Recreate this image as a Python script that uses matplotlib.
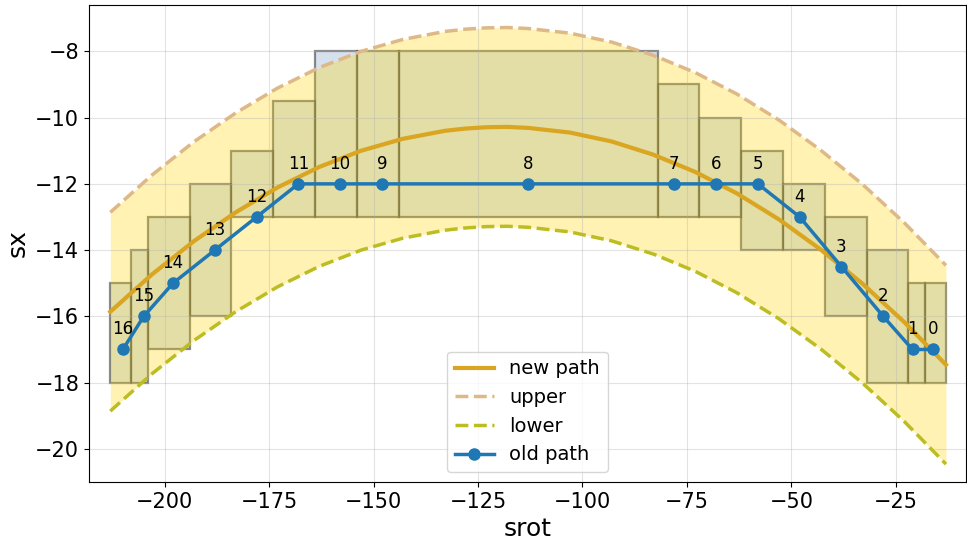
import matplotlib
matplotlib.use("Agg")
import matplotlib.pyplot as plt
from matplotlib.patches import Rectangle
import numpy as np

# old path (index -> srot, sx)
old_srot = [-16, -21, -28, -38, -48, -58, -68, -78, -113, -148, -158, -168, -178, -188, -198, -205, -210]
old_sx = [-17, -17, -16, -14.5, -13, -12, -12, -12, -12, -12, -12, -12, -13, -14, -15, -16, -17]

# bounding boxes around each old path point
box_left = [-18, -22, -32, -42, -52, -62, -72, -82, -144, -154, -164, -174, -184, -194, -204, -208, -213]
box_right = [-13, -18, -22, -32, -42, -52, -62, -72, -82, -144, -154, -164, -174, -184, -194, -204, -208]
box_low = [-18, -18, -18, -16, -14, -14, -13, -13, -13, -13, -13, -13, -13, -16, -17, -18, -18]
box_high = [-15, -15, -14, -13, -12, -11, -10, -9, -8, -8, -8, -9.5, -11, -12, -13, -14, -15]

# new path samples
new_srot = [-213, -203, -193, -183, -173, -163, -153, -143, -133, -128, -123, -118, -113,
            -103, -93, -83, -73, -63, -53, -43, -33, -23, -13]
new_sx = [-15.86, -14.73, -13.73, -12.86, -12.11, -11.49, -11.00, -10.64, -10.40, -10.33, -10.29, -10.28, -10.31,
          -10.45, -10.72, -11.12, -11.64, -12.29, -13.07, -13.98, -15.01, -16.17, -17.46]
upper_sx = [-12.86, -11.73, -10.73, -9.86, -9.11, -8.49, -8.00, -7.64, -7.40, -7.33, -7.29, -7.28, -7.31,
            -7.45, -7.72, -8.12, -8.64, -9.29, -10.07, -10.98, -12.01, -13.17, -14.46]
lower_sx = [-18.86, -17.73, -16.73, -15.86, -15.11, -14.49, -14.00, -13.64, -13.40, -13.33, -13.29, -13.28, -13.31,
            -13.45, -13.72, -14.12, -14.64, -15.29, -16.07, -16.98, -18.01, -19.17, -20.46]

fig = plt.figure(figsize=(9.67, 5.4), dpi=100)
ax = fig.add_axes([89 / 967, 58 / 540, 877 / 967, 477 / 540])

for l, r, lo, hi in zip(box_left, box_right, box_low, box_high):
    ax.add_patch(Rectangle((l, lo), r - l, hi - lo, facecolor=(0.69, 0.77, 0.87, 0.5),
                           edgecolor=(0.25, 0.25, 0.25, 0.6), linewidth=1.6, zorder=1))

ax.fill_between(new_srot, lower_sx, upper_sx, color="gold", alpha=0.3, linewidth=0, zorder=1.2)

ax.plot(new_srot, new_sx, color="goldenrod", linewidth=3, label="new path", zorder=3)
ax.plot(new_srot, upper_sx, color="burlywood", linestyle="--", linewidth=2.5, label="upper", zorder=3)
ax.plot(new_srot, lower_sx, color="tab:olive", linestyle="--", linewidth=2.5, label="lower", zorder=3)
ax.plot(old_srot, old_sx, color="tab:blue", marker="o", markersize=8, linewidth=2.5,
        label="old path", zorder=4)

for i, (x, y) in enumerate(zip(old_srot, old_sx)):
    ax.annotate(str(i), (x, y), xytext=(0, 8), textcoords="offset points",
                ha="center", va="bottom", fontsize=12, zorder=5)

ax.set_xlim(-218.1, -8.2)
ax.set_ylim(-21.0, -6.6)
ax.set_xticks([-200, -175, -150, -125, -100, -75, -50, -25])
ax.set_yticks([-20, -18, -16, -14, -12, -10, -8])
ax.tick_params(labelsize=15)
ax.grid(color="#b0b0b0", alpha=0.35, linewidth=0.8)
ax.set_xlabel("srot", fontsize=18)
ax.set_ylabel("sx", fontsize=18)
ax.legend(loc="lower center", fontsize=14)

fig.savefig("out.png", dpi=100)
